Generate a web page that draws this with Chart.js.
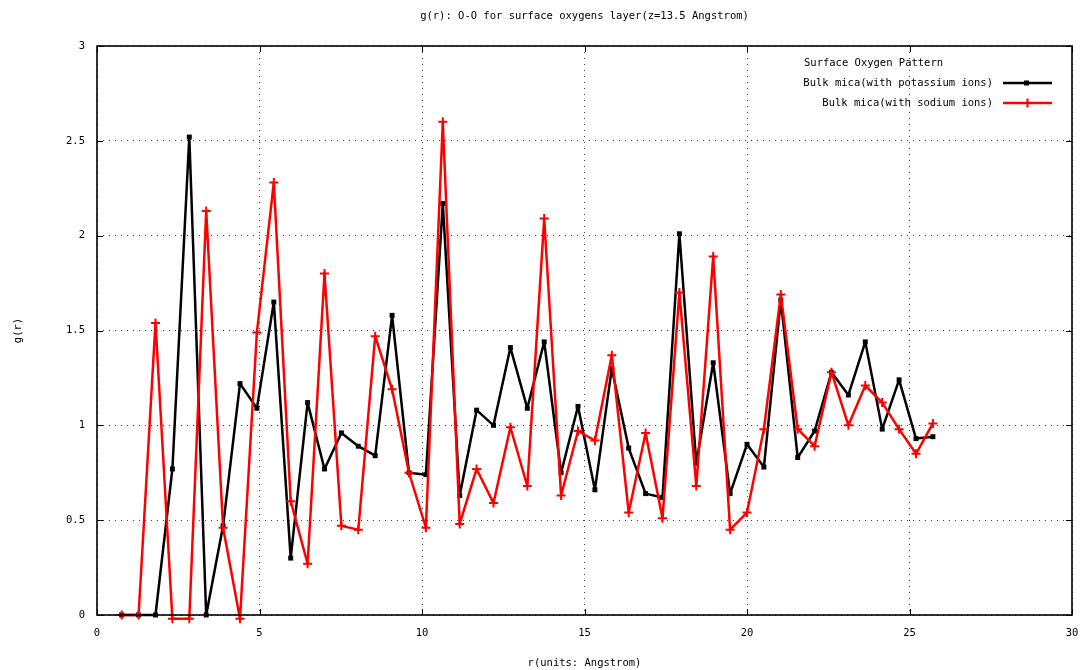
<!DOCTYPE html>
<html>
<head>
<meta charset="utf-8">
<script src="https://cdn.jsdelivr.net/npm/chart.js@4.4.1/dist/chart.umd.min.js"></script>
<style>
  html, body { margin: 0; padding: 0; background: #fff; }
  #wrap { width: 1083px; height: 670px; }
</style>
</head>
<body>
<div id="wrap"><canvas id="gr"></canvas></div>
<script>
// r values (Angstrom) of the sampled bins
const rValues = [0.76, 1.28, 1.80, 2.32, 2.84, 3.36, 3.88, 4.40, 4.92, 5.44,
  5.96, 6.48, 7.00, 7.52, 8.04, 8.56, 9.08, 9.60, 10.12, 10.64,
  11.16, 11.68, 12.20, 12.72, 13.24, 13.76, 14.28, 14.80, 15.32, 15.84,
  16.36, 16.88, 17.40, 17.92, 18.44, 18.96, 19.48, 20.00, 20.52, 21.04,
  21.56, 22.08, 22.60, 23.12, 23.64, 24.16, 24.68, 25.20, 25.72];

// g(r) with potassium ions
const potassium = [0, 0, 0, 0.77, 2.52, 0, 0.47, 1.22, 1.09, 1.65,
  0.30, 1.12, 0.77, 0.96, 0.89, 0.84, 1.58, 0.75, 0.74, 2.17,
  0.63, 1.08, 1.00, 1.41, 1.09, 1.44, 0.75, 1.10, 0.66, 1.30,
  0.88, 0.64, 0.62, 2.01, 0.80, 1.33, 0.64, 0.90, 0.78, 1.66,
  0.83, 0.97, 1.28, 1.16, 1.44, 0.98, 1.24, 0.93, 0.94];

// g(r) with sodium ions
const sodium = [0, 0, 1.54, -0.02, -0.02, 2.13, 0.46, -0.02, 1.49, 2.28,
  0.60, 0.27, 1.80, 0.47, 0.45, 1.47, 1.19, 0.75, 0.46, 2.60,
  0.48, 0.77, 0.59, 0.99, 0.68, 2.09, 0.63, 0.97, 0.92, 1.37,
  0.54, 0.96, 0.51, 1.70, 0.68, 1.89, 0.45, 0.54, 0.98, 1.69,
  0.98, 0.89, 1.28, 1.00, 1.21, 1.12, 0.98, 0.85, 1.01];

const seriesNames = ['Bulk mica(with potassium ions)', 'Bulk mica(with sodium ions)'];
const legendTitle = 'Surface Oxygen Pattern';
const chartTitle = 'g(r): O-O for surface oxygens layer(z=13.5 Angstrom)';

const mono = 'DejaVu Sans Mono';
const fontPx = 10.5;

function toPoints(ys) {
  return rValues.map((r, i) => ({ x: r, y: ys[i] }));
}

// gnuplot-like frame, mirrored inner ticks and key
const gnuFrame = {
  id: 'gnuFrame',
  afterDraw(chart) {
    const c = chart.ctx;
    const a = chart.chartArea;
    const xs = chart.scales.x, ys = chart.scales.y;
    c.save();
    c.strokeStyle = '#000';
    c.lineWidth = 1;
    c.beginPath();
    xs.ticks.forEach(t => {
      const px = Math.round(xs.getPixelForValue(t.value)) + 0.5;
      c.moveTo(px, a.bottom); c.lineTo(px, a.bottom - 6);
      c.moveTo(px, a.top); c.lineTo(px, a.top + 6);
    });
    ys.ticks.forEach(t => {
      const py = Math.round(ys.getPixelForValue(t.value)) + 0.5;
      c.moveTo(a.left, py); c.lineTo(a.left + 6, py);
      c.moveTo(a.right, py); c.lineTo(a.right - 6, py);
    });
    c.stroke();
    c.lineWidth = 1.6;
    c.strokeRect(a.left, a.top, a.right - a.left, a.bottom - a.top);

    // key
    c.font = fontPx + 'px "' + mono + '"';
    c.fillStyle = '#000';
    c.textBaseline = 'middle';
    c.textAlign = 'left';
    c.fillText(legendTitle, 804, 63);
    const rows = [
      { y: 83, color: '#000', style: 'rect' },
      { y: 103, color: '#ff0000', style: 'cross' }
    ];
    rows.forEach((row, i) => {
      c.textAlign = 'right';
      c.fillStyle = '#000';
      c.fillText(seriesNames[i], 993, row.y);
      c.strokeStyle = row.color;
      c.lineWidth = 2.5;
      c.beginPath();
      c.moveTo(1003, row.y); c.lineTo(1052, row.y);
      c.stroke();
      if (row.style === 'rect') {
        c.fillStyle = row.color;
        c.fillRect(1024, row.y - 2.5, 5, 5);
      } else {
        c.lineWidth = 2;
        c.beginPath();
        c.moveTo(1027.5, row.y - 4.5); c.lineTo(1027.5, row.y + 4.5);
        c.stroke();
      }
    });
    c.restore();
  }
};

new Chart(document.getElementById('gr'), {
  type: 'line',
  data: {
    datasets: [
      {
        label: seriesNames[0],
        data: toPoints(potassium),
        borderColor: '#000',
        backgroundColor: '#000',
        borderWidth: 2.5,
        borderJoinStyle: 'round',
        pointStyle: 'rect',
        pointRadius: 3.5,
        pointBorderWidth: 0,
        tension: 0,
        clip: false,
        order: 2
      },
      {
        label: seriesNames[1],
        data: toPoints(sodium),
        borderColor: '#ff0000',
        backgroundColor: '#ff0000',
        borderWidth: 2.5,
        borderJoinStyle: 'round',
        pointStyle: 'cross',
        pointRadius: 4.5,
        pointBorderWidth: 2,
        tension: 0,
        clip: false,
        order: 1
      }
    ]
  },
  options: {
    responsive: true,
    maintainAspectRatio: false,
    animation: false,
    layout: { padding: { left: 0, right: 11, top: 0, bottom: 0 } },
    plugins: {
      legend: { display: false },
      tooltip: { enabled: false },
      title: {
        display: true,
        text: chartTitle,
        fullSize: false,
        color: '#000',
        font: { family: mono, size: fontPx, weight: 'normal' },
        padding: { top: 10, bottom: 23.4 }
      }
    },
    scales: {
      x: {
        type: 'linear',
        min: 0,
        max: 30,
        afterFit(scale) {
          scale.height = 55;
          scale.paddingLeft = 0;
          scale.paddingRight = 0;
        },
        ticks: {
          stepSize: 5,
          color: '#000',
          padding: 12,
          maxRotation: 0,
          font: { family: mono, size: fontPx }
        },
        grid: { color: '#444', lineWidth: 1, drawTicks: false },
        border: { display: false, dash: [1, 5] },
        title: {
          display: true,
          text: 'r(units: Angstrom)',
          color: '#000',
          font: { family: mono, size: fontPx },
          padding: { top: 1, bottom: 0 }
        }
      },
      y: {
        min: 0,
        max: 3,
        afterFit(scale) { scale.width = 97; },
        ticks: {
          stepSize: 0.5,
          color: '#000',
          padding: 12,
          font: { family: mono, size: fontPx },
          callback: v => String(v)
        },
        grid: { color: '#444', lineWidth: 1, drawTicks: false },
        border: { display: false, dash: [1, 5] },
        title: {
          display: true,
          text: 'g(r)',
          color: '#000',
          font: { family: mono, size: fontPx },
          padding: { top: 12, bottom: 0 }
        }
      }
    }
  },
  plugins: [gnuFrame]
});
</script>
</body>
</html>
